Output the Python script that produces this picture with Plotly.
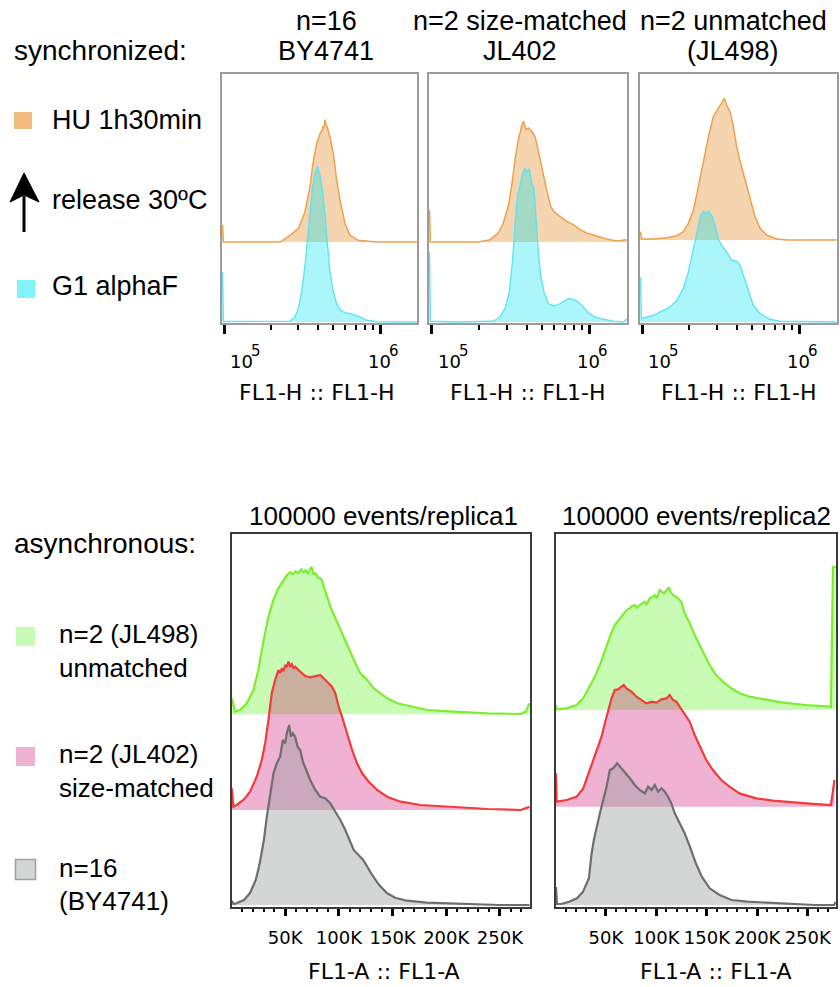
import math
import plotly.graph_objects as go

# ---------------- DATA ----------------
# Synchronized panels: x = log10(FL1-H), y = height above the curve's own baseline
hu_by4741_logx = [4.990, 4.996, 5.359, 5.423, 5.476, 5.519, 5.551, 5.573, 5.594, 5.615, 5.630, 5.637,
                  5.642, 5.647, 5.655, 5.662, 5.679, 5.701, 5.722, 5.748, 5.776, 5.808, 5.861, 5.979, 6.236]
hu_by4741 = [17, 0, 0, 6.7, 13.3, 30, 55, 81.7, 98.3, 108.3, 112, 116.7,
             115, 122.3, 117, 115, 105, 88.3, 61.7, 38.3, 18.3, 6.7, 1.7, 0, 0]
g1_by4741_logx = [4.990, 4.996, 5.423, 5.455, 5.476, 5.498, 5.519, 5.534, 5.551, 5.566, 5.583, 5.598,
                  5.615, 5.632, 5.647, 5.662, 5.679, 5.701, 5.722, 5.748, 5.776, 5.808, 5.840, 5.872,
                  5.915, 5.979, 6.236]
g1_by4741 = [50, 0.5, 0.7, 5, 13.3, 30, 56.7, 83.3, 113.3, 133.3, 148.3, 156,
             146.7, 130, 106.7, 76.7, 50, 30, 18.3, 11.7, 9.3, 8.3, 6.7, 5,
             1.7, 0.3, 0]

hu_jl402_logx = [4.984, 4.990, 5.295, 5.369, 5.423, 5.454, 5.486, 5.507, 5.529, 5.550, 5.571, 5.582,
                 5.599, 5.614, 5.635, 5.656, 5.671, 5.688, 5.709, 5.730, 5.756, 5.783, 5.815, 5.858,
                 5.900, 5.943, 5.985, 6.049, 6.113, 6.176, 6.240]
hu_jl402 = [32, 0, 0, 2.3, 9, 19, 35.7, 55.7, 82.3, 102.3, 115.7, 120.7,
            112.3, 114, 110.7, 105.7, 95.7, 82.3, 69, 52.3, 35.7, 29, 25.7, 20.7,
            17.3, 12.3, 9, 5.7, 3, 1, 2.3]
g1_jl402_logx = [4.984, 4.990, 5.157, 5.391, 5.433, 5.465, 5.493, 5.514, 5.529, 5.543, 5.561, 5.577,
                 5.592, 5.607, 5.620, 5.635, 5.650, 5.662, 5.677, 5.692, 5.713, 5.741, 5.773, 5.805,
                 5.836, 5.868, 5.900, 5.932, 5.964, 5.996, 6.038, 6.091, 6.155, 6.219, 6.240]
g1_jl402 = [70, 0.7, 0, 0.7, 5, 13.3, 30, 63.3, 96.7, 123.3, 136.7, 148.3,
            153.3, 150, 153.3, 138.3, 133.3, 103.3, 70, 46.7, 30, 18.3, 16, 17.3,
            20, 23.3, 22.7, 20, 15, 9.3, 5, 2.7, 0.7, 0, 3.3]

hu_jl498_logx = [4.990, 4.996, 5.072, 5.157, 5.221, 5.263, 5.295, 5.327, 5.359, 5.391, 5.423, 5.454,
                 5.480, 5.507, 5.524, 5.539, 5.561, 5.582, 5.603, 5.628, 5.656, 5.688, 5.720, 5.752,
                 5.794, 5.858, 5.922, 6.240]
hu_jl498 = [8.3, 1, 1, 2.3, 4.3, 8.3, 16.7, 30, 53.3, 80, 103.3, 123.3,
            130, 136.7, 141.7, 135, 128.3, 113.3, 93.3, 76.7, 60, 40, 23.3, 11.7,
            5, 1, 0, 0]
g1_jl498_logx = [4.990, 4.996, 5.008, 5.072, 5.136, 5.178, 5.221, 5.263, 5.295, 5.327, 5.352, 5.374,
                 5.391, 5.408, 5.423, 5.444, 5.465, 5.486, 5.507, 5.539, 5.571, 5.603, 5.624, 5.645,
                 5.677, 5.709, 5.752, 5.815, 5.879, 6.240]
g1_jl498 = [45, 3, 4, 6.7, 11.7, 15, 21.7, 33.3, 50, 73.3, 93.3, 106.7,
            110.7, 108.3, 110.7, 106.7, 96.7, 83.3, 76.7, 70, 61.7, 60.7, 56.7, 46.7,
            30, 16.7, 8.3, 2.7, 0.7, 0]

# Asynchronous panels: x = FL1-A in thousands, y = height above the curve's own baseline
unm_r1_x = [0.4, 3.3, 7.9, 14.2, 20.4, 25.0, 28.2, 31.3, 34.4, 39.0, 43.7, 48.4, 51.6, 54.6, 57.0,
            59.7, 62.0, 65.2, 67.0, 69.0, 71.0, 74.5, 76.5, 78.2, 80.5, 83.8, 85.8, 88.9, 92.0, 96.7,
            101.4, 106.0, 110.7, 115.4, 120.0, 126.3, 132.5, 138.7, 145.0, 154.3, 166.7, 182.3, 207.2,
            238.4, 269.5, 274.2, 277.4]
unm_r1 = [16, 2.7, 4.3, 11, 24.3, 44.3, 64.3, 81, 97.7, 114.3, 126, 134, 139, 142, 140,
          143, 141, 145, 142, 144, 141, 147.6, 140, 141, 137, 135, 128, 118, 108, 96,
          84.3, 72.7, 62.7, 51, 41, 34.3, 26, 21, 16, 11, 7.7, 4.3, 2.7,
          1, 0.3, 2.7, 11]
sm_r1_x = [0.4, 1.7, 4.8, 11.1, 17.3, 23.5, 28.2, 31.3, 34.4, 37.5, 40.6, 43.7, 45.2, 46.9, 48.5,
           50.0, 51.5, 53.1, 54.5, 56.2, 57.6, 59.3, 64.0, 68.7, 73.3, 78.0, 82.7, 85.8, 88.9, 93.6,
           96.7, 99.8, 102.9, 107.6, 112.3, 116.9, 121.6, 127.8, 135.6, 144.9, 157.4, 176.1, 207.2,
           238.4, 269.5, 277.4]
sm_r1 = [21.7, 3.3, 5, 10, 18.3, 33.3, 50, 66.7, 90, 116.7, 130, 140, 137, 141.7, 139,
         145, 143, 148.3, 144, 146, 142, 143.3, 138.3, 134, 132.7, 134, 135, 131.7, 128.3, 123.3,
         116.7, 103.3, 93.3, 76.7, 60, 46.7, 36.7, 28.3, 20, 13.3, 8.3, 5, 2.7,
         1, 0, 3.3]
wt_r1_x = [0.4, 2.0, 4.1, 11.5, 17.1, 22.6, 26.3, 28.5, 30.3, 32.9, 36.0, 39.1, 42.2, 45.3, 47.8,
           50.0, 51.5, 53.7, 55.3, 57.1, 59.3, 61.5, 64.0, 66.5, 69.6, 73.3, 78.0, 82.7, 87.3, 92.0,
           96.7, 101.4, 106.0, 110.7, 113.8, 122.7, 130.1, 137.5, 145.0, 152.4, 163.5, 182.0, 211.7,
           248.8, 277.5]
wt_r1 = [4, 1, 1.5, 5, 11.7, 25, 41.7, 55, 66, 88.3, 111.7, 131.7, 141.7, 148.3, 165,
         161.7, 171.7, 180, 168.3, 171.7, 168.3, 158.3, 155, 143.3, 135, 125, 115, 108.3, 106.7, 101.7,
         93.3, 85, 75, 63.3, 55, 45, 31.7, 20, 11.7, 7.3, 4.3, 2.3, 1,
         0, 0]

unm_r2_x = [0.4, 1.2, 11.0, 20.9, 27.5, 34.1, 39.0, 44.0, 48.9, 53.9, 58.8, 63.8, 66.0, 68.7, 70.5,
            73.7, 76.0, 78.6, 80.5, 83.5, 86.0, 88.5, 90.5, 93.4, 96.0, 98.4, 100.5, 103.3, 105.5, 107.3,
            109.5, 112.5, 114.5, 116.5, 121.4, 124.7, 128.0, 133.0, 137.9, 142.9, 147.8, 152.7, 159.3,
            165.9, 174.2, 182.4, 192.3, 208.8, 225.2, 248.3, 273.0, 275.0, 277.8]
unm_r2 = [5, 0.7, 1.7, 5, 11.7, 23.3, 33.3, 45, 60, 73.3, 85, 91.7, 94, 98.3, 100,
          101.7, 104, 105, 102, 105, 107, 108.3, 106, 111.7, 113, 115, 112, 120, 118, 116.7,
          119, 122.7, 117, 115, 111.7, 108.3, 96.7, 86.7, 75, 65, 55, 45, 35,
          28.3, 21.7, 16.7, 13.3, 10, 7.3, 5, 3.3, 143, 143]
sm_r2_x = [0.4, 1.2, 11.0, 20.9, 27.5, 34.1, 40.7, 45.6, 48.9, 52.2, 55.5, 58.8, 62.1, 65.4, 67.7,
           70.4, 75.3, 80.2, 85.2, 90.1, 95.1, 100.0, 105.0, 109.9, 113.2, 116.5, 119.8, 123.1, 128.0,
           133.0, 137.9, 142.9, 149.4, 156.0, 164.3, 172.5, 182.4, 198.9, 215.3, 248.3, 273.0, 276.5]
sm_r2 = [33.3, 5, 6.7, 10, 18.3, 36.7, 56.7, 70, 83.3, 96.7, 108.3, 116.7, 117.3, 120, 121.7,
         118.3, 115, 110, 106.7, 103.3, 105, 104, 107.3, 108.3, 111.7, 106.7, 105, 100, 93.3,
         85, 71.7, 60, 46.7, 36.7, 26.7, 20, 13.3, 8.3, 6, 3.3, 1.7, 26.7]
wt_r2_x = [0.5, 1.5, 5.7, 13.5, 21.3, 27.3, 33.1, 35.6, 38.0, 40.7, 44.0, 47.3, 50.6, 53.9, 57.2,
           61.1, 65.4, 69.7, 73.7, 78.6, 83.5, 88.5, 91.8, 95.1, 98.4, 101.7, 105.0, 108.3, 111.6,
           114.8, 118.2, 123.1, 128.0, 133.2, 139.1, 145.0, 152.8, 162.6, 174.4, 190.1, 217.6, 256.7,
           276.0, 277.5]
wt_r2 = [18, 1, 1, 3.3, 6.7, 13.3, 26.7, 50, 65, 78.3, 91.7, 105, 118.3, 135, 136.7,
         141.7, 136.7, 131.7, 126.7, 120, 115, 111.7, 118.3, 115, 120, 113.3, 116.7, 113.3, 108.3,
         101.7, 91.7, 81.7, 71.7, 58.3, 41.7, 28.3, 16.7, 10, 5, 3.3, 1.7, 0,
         0, 3]

sync_titles = [("n=16", "BY4741"), ("n=2 size-matched", "JL402"), ("n=2 unmatched", "(JL498)")]
sync_ticks = [1e5, 1e6]
sync_tick_base = ["10", "10"]
sync_tick_exp = ["5", "6"]
sync_minor = [2e5, 3e5, 4e5, 5e5, 6e5, 7e5, 8e5, 9e5]
async_titles = ["100000 events/replica1", "100000 events/replica2"]
async_ticks = [50, 100, 150, 200, 250]
async_tick_text = ["50K", "100K", "150K", "200K", "250K"]
async_minor = [v for v in range(10, 280, 10) if v % 50]

# ---------------- LAYOUT HELPERS ----------------
W, H = 840, 987
def fx(p): return p / W
def fy(p): return 1 - p / H

ARIAL = "Liberation Sans, Arial, sans-serif"
DV = "DejaVu Sans, Verdana, sans-serif"

HU_LINE, HU_FILL = "#F0A04C", "#F4D5AF"
G1_LINE, G1_FILL = "rgba(90,225,245,0.95)", "rgba(0,228,240,0.33)"
GR_LINE, GR_FILL = "#7CEE2E", "#C8FCB5"
RD_LINE, RD_FILL = "#F53A3A", "rgba(205,0,105,0.30)"
GY_LINE, GY_FILL = "#6E6E6E", "rgba(148,152,152,0.40)"

fig = go.Figure()

def add_hist(x, y, offset, ax, line_color, fill_color, width):
    if offset == 0:
        fig.add_trace(go.Scatter(x=x, y=y, mode="lines", fill="tozeroy", fillcolor=fill_color,
                                 line=dict(color=line_color, width=width),
                                 xaxis="x" + ax, yaxis="y" + ax, showlegend=False, hoverinfo="skip"))
        return
    fig.add_trace(go.Scatter(x=x, y=[offset] * len(x), mode="lines",
                             line=dict(width=0, color="rgba(0,0,0,0)"),
                             xaxis="x" + ax, yaxis="y" + ax, showlegend=False, hoverinfo="skip"))
    fig.add_trace(go.Scatter(x=x, y=[offset + v for v in y], mode="lines", fill="tonexty",
                             fillcolor=fill_color, line=dict(color=line_color, width=width),
                             xaxis="x" + ax, yaxis="y" + ax, showlegend=False, hoverinfo="skip"))

top_sets = [(hu_by4741_logx, hu_by4741, g1_by4741_logx, g1_by4741),
            (hu_jl402_logx, hu_jl402, g1_jl402_logx, g1_jl402),
            (hu_jl498_logx, hu_jl498, g1_jl498_logx, g1_jl498)]
top_offsets = [80, 80, 82]
for i, (hx, hy, gx, gy) in enumerate(top_sets):
    ax = str(i + 1)
    add_hist([10 ** v for v in hx], hy, top_offsets[i], ax, HU_LINE, HU_FILL, 1.5)
    add_hist([10 ** v for v in gx], gy, 0, ax, G1_LINE, G1_FILL, 1.4)

bot_sets = [(unm_r1_x, unm_r1, sm_r1_x, sm_r1, wt_r1_x, wt_r1),
            (unm_r2_x, unm_r2, sm_r2_x, sm_r2, wt_r2_x, wt_r2)]
bot_offsets = [(190.7, 95), (195, 98.3)]
for i, (ux, uy, sx, sy, wx, wy) in enumerate(bot_sets):
    ax = str(i + 4)
    add_hist(ux, uy, bot_offsets[i][0], ax, GR_LINE, GR_FILL, 2.2)
    add_hist(sx, sy, bot_offsets[i][1], ax, RD_LINE, RD_FILL, 2.2)
    add_hist(wx, wy, 0, ax, GY_LINE, GY_FILL, 2.2)

layout = dict(width=W, height=H, margin=dict(l=0, r=0, t=0, b=0), autosize=False,
              paper_bgcolor="white", plot_bgcolor="white", showlegend=False)

top_xdom = [(222, 417), (429, 627), (640, 837)]
top_xrange = [(4.987, 6.237), (4.981, 6.242), (4.987, 6.242)]
for i in range(3):
    n = "" if i == 0 else str(i + 1)
    layout["xaxis" + n] = dict(
        type="log", domain=[fx(top_xdom[i][0]), fx(top_xdom[i][1])], range=list(top_xrange[i]),
        anchor="y" + n, showline=True, mirror=True, linecolor="#9c9c9c", linewidth=1.5,
        ticks="outside", tickvals=sync_ticks, ticklen=9, tickwidth=3, tickcolor="black",
        showticklabels=False, showgrid=False, zeroline=False, fixedrange=True,
        minor=dict(tickvals=sync_minor, ticks="outside", ticklen=5, tickwidth=1.5,
                   tickcolor="black", showgrid=False))
    layout["yaxis" + n] = dict(
        domain=[fy(323), fy(74)], range=[-1, 248], anchor="x" + n, showline=True, mirror=True,
        linecolor="#9c9c9c", linewidth=1.5, showticklabels=False, ticks="", showgrid=False,
        zeroline=False, fixedrange=True)

bot_xdom = [(231.5, 530), (555.5, 836)]
for i in range(2):
    n = str(i + 4)
    layout["xaxis" + n] = dict(
        domain=[fx(bot_xdom[i][0]), fx(bot_xdom[i][1])], range=[0, 278], anchor="y" + n,
        showline=True, mirror=True, linecolor="#3a3a3a", linewidth=1.6,
        ticks="outside", tickvals=async_ticks, ticktext=async_tick_text, ticklen=7, tickwidth=2.5,
        tickcolor="black", tickfont=dict(family=DV, size=18, color="black"), ticklabelstandoff=7,
        showgrid=False, zeroline=False, fixedrange=True,
        minor=dict(tickvals=async_minor, ticks="outside", ticklen=3.5, tickwidth=1.5,
                   tickcolor="black", showgrid=False))
    layout["yaxis" + n] = dict(
        domain=[fy(907), fy(534)], range=[-2, 371], anchor="x" + n, showline=True, mirror=True,
        linecolor="#3a3a3a", linewidth=1.6, showticklabels=False, ticks="", showgrid=False,
        zeroline=False, fixedrange=True)

fig.update_layout(**layout)

def ann(text, x, y, size, family=ARIAL, xanchor="left", **kw):
    fig.add_annotation(text=text, x=fx(x), y=fy(y), xref="paper", yref="paper", showarrow=False,
                       xanchor=xanchor, yanchor="middle", font=dict(family=family, size=size, color="black"),
                       **kw)

# left-hand labels
ann("synchronized:", 12, 51, 28)
ann("HU 1h30min", 50, 119.5, 27)
ann("release 30ºC", 50, 199.5, 27)
ann("G1 alphaF", 50, 285.5, 27)
ann("asynchronous:", 12, 543.5, 28)
ann("n=2 (JL498)", 57, 633.5, 26)
ann("unmatched", 57, 667.5, 26)
ann("n=2 (JL402)", 57, 753.5, 26)
ann("size-matched", 57, 787.5, 26)
ann("n=16", 57, 867.5, 26)
ann("(BY4741)", 57, 900.5, 26)

# panel titles
title_cx = [326, 520, 733]
for i, (l1, l2) in enumerate(sync_titles):
    ann(l1, title_cx[i], 20.5, 27, xanchor="center")
    ann(l2, title_cx[i], 50.5, 27, xanchor="center")
for i, t in enumerate(async_titles):
    ann(t, [383, 696][i], 516, 26, xanchor="center")

# log tick labels (base + raised exponent, offset right of the decade ticks as in the cytometry software)
for i in range(3):
    n = "" if i == 0 else str(i + 1)
    for v, b, e, sh in zip(sync_ticks, sync_tick_base, sync_tick_exp, [30, 12]):
        fig.add_annotation(text=b, x=math.log10(v), y=fy(362), xref="x" + n, yref="paper",
                           showarrow=False, xanchor="right", yanchor="middle", xshift=sh, borderpad=0,
                           font=dict(family=DV, size=18, color="black"))
        fig.add_annotation(text=e, x=math.log10(v), y=fy(351), xref="x" + n, yref="paper",
                           showarrow=False, xanchor="left", yanchor="middle", xshift=sh - 4, borderpad=0,
                           font=dict(family=DV, size=15, color="black"))
    ann("FL1-H :: FL1-H", [317, 528, 739][i], 392.5, 22, family=DV, xanchor="center")
for i in range(2):
    ann("FL1-A :: FL1-A", [384, 716][i], 971.5, 22, family=DV, xanchor="center")

# legend swatches and arrow
def rect(x0, y0, x1, y1, color, line=None):
    fig.add_shape(type="rect", xref="paper", yref="paper", x0=fx(x0), x1=fx(x1), y0=fy(y1), y1=fy(y0),
                  fillcolor=color, line=dict(width=1.5 if line else 0, color=line or color))

rect(14, 112, 32, 129, "#F0BC80")
rect(17, 280, 35, 298, "#80F4FC")
rect(16, 627, 35, 646, "#C8FCB5")
rect(16, 747, 35, 766, "#F0B2D2")
rect(15.5, 859.5, 35.5, 879.5, "#D4D6D6", line="#A0A0A0")

fig.add_shape(type="line", xref="paper", yref="paper", x0=fx(24), x1=fx(24), y0=fy(232), y1=fy(196),
              line=dict(color="black", width=3))
fig.add_shape(type="path", xref="paper", yref="paper",
              path="M {} {} L {} {} L {} {} L {} {} Z".format(fx(24), fy(173), fx(39), fy(202),
                                                              fx(24), fy(195), fx(10), fy(202)),
              fillcolor="black", line=dict(color="black", width=1))

fig.write_html("out.html")
